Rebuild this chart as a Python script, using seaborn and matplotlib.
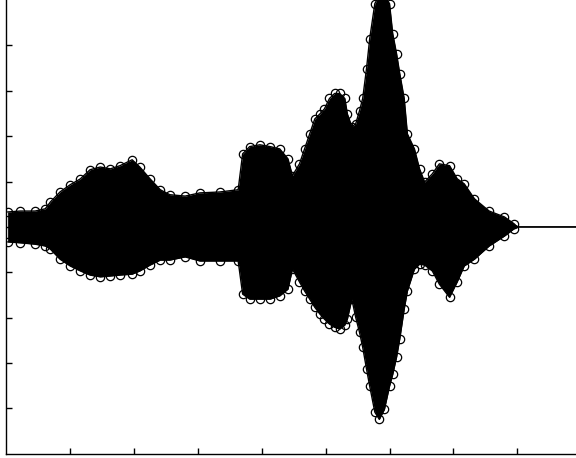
import numpy as np
import matplotlib
matplotlib.use('Agg')
import matplotlib.pyplot as plt
import seaborn as sns

sns.set_style('ticks')

# envelope of the waveform (time, upper, lower)
t_env = [0.02, 0.22, 0.45, 0.61, 0.69, 0.84, 1.00, 1.16, 1.31, 1.47, 1.63, 1.78,
         1.97, 2.09, 2.25, 2.41, 2.56, 2.80, 3.03, 3.34, 3.63, 3.70, 3.81, 3.97,
         4.13, 4.28, 4.41, 4.48, 4.59, 4.67, 4.75, 4.83, 4.91, 4.98, 5.06, 5.14,
         5.22, 5.30, 5.34, 5.41, 5.47, 5.53, 5.58, 5.64, 5.69, 5.77, 5.84, 5.92,
         6.00, 6.05, 6.11, 6.16, 6.23, 6.28, 6.39, 6.47, 6.55, 6.67, 6.78, 6.94,
         7.06, 7.17, 7.33, 7.56, 7.80, 7.95, 8.00, 8.92]
upper = [0.033, 0.035, 0.035, 0.040, 0.055, 0.077, 0.093, 0.106, 0.126, 0.132, 0.128, 0.135,
         0.148, 0.132, 0.106, 0.082, 0.071, 0.068, 0.075, 0.077, 0.082, 0.161, 0.177, 0.181,
         0.177, 0.172, 0.150, 0.113, 0.139, 0.172, 0.205, 0.238, 0.249, 0.260, 0.283, 0.294,
         0.294, 0.283, 0.249, 0.221, 0.227, 0.256, 0.283, 0.349, 0.415, 0.492, 0.510, 0.510,
         0.492, 0.426, 0.382, 0.338, 0.283, 0.205, 0.172, 0.128, 0.099, 0.117, 0.139, 0.135,
         0.106, 0.095, 0.062, 0.035, 0.022, 0.007, 0.0, 0.0]
lower = [-0.033, -0.035, -0.038, -0.042, -0.049, -0.071, -0.086, -0.097, -0.106, -0.110, -0.108, -0.106,
         -0.104, -0.097, -0.084, -0.073, -0.073, -0.066, -0.075, -0.075, -0.075, -0.148, -0.159, -0.159,
         -0.159, -0.152, -0.137, -0.093, -0.121, -0.141, -0.159, -0.177, -0.192, -0.203, -0.214, -0.221,
         -0.225, -0.216, -0.203, -0.159, -0.199, -0.232, -0.265, -0.313, -0.351, -0.408, -0.424, -0.402,
         -0.351, -0.325, -0.287, -0.247, -0.181, -0.141, -0.093, -0.082, -0.084, -0.097, -0.126, -0.155,
         -0.121, -0.086, -0.071, -0.042, -0.020, -0.004, 0.0, 0.0]

x_ticks = [1, 2, 3, 4, 5, 6, 7, 8]
y_ticks = [-0.4, -0.3, -0.2, -0.1, 0.0, 0.1, 0.2, 0.3, 0.4]

fig = plt.figure(figsize=(5.76, 4.58), dpi=100)
ax = fig.add_axes([0.011, 0.009, 0.989, 0.991])

ax.fill_between(t_env, lower, upper, color='black', lw=0)
for env in (upper, lower):
    sns.lineplot(x=t_env, y=env, ax=ax, color='black', lw=1, sort=False,
                 marker='o', markersize=6, markerfacecolor='none',
                 markeredgecolor='black', markeredgewidth=0.9,
                 markevery=slice(0, -2))

ax.set_xlim(0, 8.92)
ax.set_ylim(-0.5, 0.5)
ax.set_xticks(x_ticks)
ax.set_yticks(y_ticks)
ax.set_xticklabels([])
ax.set_yticklabels([])
ax.tick_params(direction='in', length=4, width=1, color='black')
sns.despine(ax=ax)
for s in ('left', 'bottom'):
    ax.spines[s].set_color('black')
    ax.spines[s].set_linewidth(1)

fig.savefig('out.png', dpi=100)
